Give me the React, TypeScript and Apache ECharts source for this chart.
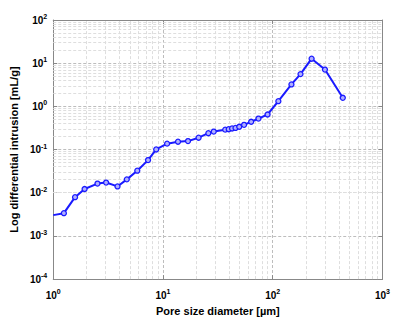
import React, { useEffect, useRef } from "react";
import * as echarts from "echarts";

const poreDiameter = [
  1.0, 1.25, 1.58, 1.93, 2.53, 3.03, 3.85, 4.68, 5.83, 7.31, 8.67, 10.9, 13.7, 16.9,
  21.1, 25.9, 29.0, 36.9, 39.7, 42.6, 45.8, 49.5, 54.8, 63.6, 74.1, 89.7, 112.5, 148,
  179, 226, 299, 435,
];
const logIntrusion = [
  0.00303, 0.00336, 0.0079, 0.0122, 0.0163, 0.0172, 0.014, 0.0204, 0.0324, 0.057, 0.1004,
  0.137, 0.152, 0.157, 0.188, 0.239, 0.261, 0.289, 0.296, 0.308, 0.317, 0.337, 0.374, 0.44,
  0.522, 0.648, 1.32, 3.22, 5.58, 12.7, 7.11, 1.58,
];
const xDecades = [1, 10, 100];
const yDecades = [0.0001, 0.001, 0.01, 0.1, 1, 10];
const minorMultipliers = [2, 3, 4, 5, 6, 7, 8, 9];
const xTitle = "Pore size diameter [\u00b5m]";
const yTitle = "Log differential intrusion [mL/g]";

const FONT = "Liberation Sans, Arial, sans-serif";

const fmtPow = (v: number) => {
  const e = Math.round(Math.log10(v));
  return `{b|10}{s|${e}}`;
};

const labelRich = {
  b: { fontFamily: FONT, fontWeight: "bold", fontSize: 10, color: "#000" },
  s: { fontFamily: FONT, fontWeight: "bold", fontSize: 7, color: "#000", padding: [0, 0, 7, 0] },
};

export default function App() {
  const ref = useRef<HTMLDivElement>(null);
  useEffect(() => {
    if (!ref.current) return;
    const chart = echarts.init(ref.current, undefined, { renderer: "svg" });
    const xMinor: number[] = [];
    xDecades.forEach((d) => minorMultipliers.forEach((m) => xMinor.push(d * m)));
    const yMinor: number[] = [];
    yDecades.forEach((d) => minorMultipliers.forEach((m) => yMinor.push(+(d * m).toPrecision(3))));

    const axisLine = { show: true, lineStyle: { color: "#888", width: 1 } };
    const tick = { show: true, inside: true, length: 4, lineStyle: { color: "#888" } };
    const majorSplit = { show: true, lineStyle: { color: "#bdbdbd", type: [3, 2] as any, width: 1 } };

    chart.setOption({
      animation: false,
      backgroundColor: "#fff",
      grid: { left: 48, top: 20, right: 8, bottom: 33, containLabel: false },
      xAxis: [
        {
          type: "log",
          logBase: 10,
          min: 1,
          max: 1000,
          axisLine,
          axisTick: tick,
          splitLine: majorSplit,
          axisLabel: { formatter: fmtPow, rich: labelRich, margin: 9 },
          name: xTitle,
          nameLocation: "middle",
          nameGap: 24,
          nameTextStyle: { fontFamily: FONT, fontWeight: "bold", fontSize: 11, color: "#000" },
        },
        {
          type: "log",
          logBase: 10,
          min: 1,
          max: 1000,
          position: "top",
          axisLine,
          axisTick: tick,
          splitLine: { show: false },
          axisLabel: { show: false },
        },
      ],
      yAxis: [
        {
          type: "log",
          logBase: 10,
          min: 0.0001,
          max: 100,
          axisLine,
          axisTick: tick,
          splitLine: majorSplit,
          axisLabel: { formatter: fmtPow, rich: labelRich, margin: 6 },
          name: yTitle,
          nameLocation: "middle",
          nameGap: 32,
          nameRotate: 90,
          nameTextStyle: { fontFamily: FONT, fontWeight: "bold", fontSize: 11, color: "#000" },
        },
        {
          type: "log",
          logBase: 10,
          min: 0.0001,
          max: 100,
          position: "right",
          axisLine,
          axisTick: tick,
          splitLine: { show: false },
          axisLabel: { show: false },
        },
      ],
      series: [
        {
          type: "line",
          data: poreDiameter.map((d, i) =>
            i === 0 ? { value: [d, logIntrusion[i]], symbolSize: 0 } : [d, logIntrusion[i]]
          ),
          lineStyle: { color: "#1a1aff", width: 2 },
          symbol: "circle",
          symbolSize: 5,
          itemStyle: { color: "#b0b0ff", borderColor: "#1a1aff", borderWidth: 1.3 },
          clip: true,
          z: 5,
          markLine: {
            silent: true,
            symbol: ["none", "none"],
            label: { show: false },
            lineStyle: { color: "#dedede", type: [3, 2] as any, width: 1 },
            data: [
              ...xMinor.map((v) => ({ xAxis: v })),
              ...yMinor.map((v) => ({ yAxis: v })),
            ],
            z: 1,
          },
        },
      ],
    });
    return () => chart.dispose();
  }, []);
  return (
    <div
      ref={ref}
      style={{ position: "fixed", left: 0, top: 0, width: 393, height: 321, background: "#fff" }}
    />
  );
}
